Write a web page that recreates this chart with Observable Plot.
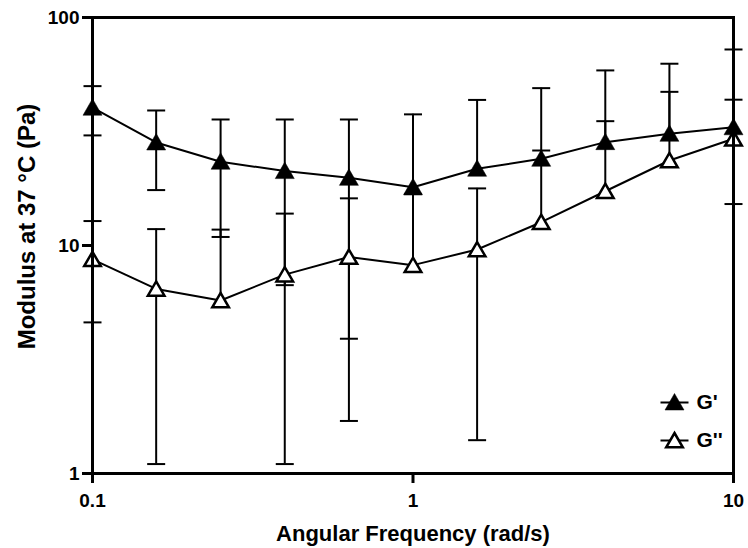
<!DOCTYPE html>
<html>
<head>
<meta charset="utf-8">
<script src="https://cdn.jsdelivr.net/npm/d3@7"></script>
<script src="https://cdn.jsdelivr.net/npm/@observablehq/plot@0.6"></script>
<style>
  html, body { margin: 0; padding: 0; background: #fff; }
  #chart svg { display: block; }
</style>
</head>
<body>
<div id="chart"></div>
<script>
// ---- data ----
const frequency = [0.1, 0.158, 0.251, 0.398, 0.631, 1, 1.585, 2.512, 3.981, 6.31, 10];
const gPrime     = [40.2, 28.3, 23.3, 21.2, 19.8, 18.0, 21.7, 24.0, 28.4, 30.9, 33.0];
const gPrimeSD   = [9.8, 10.8, 12.4, 14.5, 15.9, 19.6, 21.8, 25.0, 30.2, 31.8, 39.4];
const gDouble    = [8.7, 6.45, 5.74, 7.45, 8.9, 8.2, 9.6, 12.65, 17.3, 23.6, 29.4];
const gDoubleSD  = [4.1, 5.35, 6.0, 6.35, 7.2, 8.6, 8.2, 13.45, 17.8, 23.6, 14.2];
const seriesNames = ["G'", "G''"];
const xTicks = [0.1, 1, 10];
const xTickLabels = ["0.1", "1", "10"];
const yTicks = [1, 10, 100];
const yTickLabels = ["1", "10", "100"];
const xTitle = "Angular Frequency (rad/s)";
const yTitle = "Modulus at 37 \u00B0C (Pa)";

// ---- derived tables ----
function buildRows(name, means, sds) {
  return frequency.map((f, i) => {
    const lowRaw = means[i] - sds[i];
    return {series: name, f, v: means[i], hi: means[i] + sds[i],
            lo: lowRaw > 0 ? lowRaw : means[i], hasLo: lowRaw > 0};
  });
}
const rowsP = buildRows(seriesNames[0], gPrime, gPrimeSD);
const rowsD = buildRows(seriesNames[1], gDouble, gDoubleSD);
function capRows(rows) {
  const out = [];
  for (const r of rows) {
    out.push({f: r.f, y: r.hi});
    if (r.hasLo) out.push({f: r.f, y: r.lo});
  }
  return out;
}

// ---- custom symbols ----
const triFilled = {draw(ctx) { ctx.moveTo(0, -9); ctx.lineTo(9.5, 7.5); ctx.lineTo(-9.5, 7.5); ctx.closePath(); }};
const triOpen   = {draw(ctx) { ctx.moveTo(0, -7.5); ctx.lineTo(8.3, 6.8); ctx.lineTo(-8.3, 6.8); ctx.closePath(); }};
const capSym    = {draw(ctx) { ctx.moveTo(-9, 0); ctx.lineTo(9, 0); }};
const legendSym = {draw(ctx) { ctx.moveTo(-14, 0); ctx.lineTo(14, 0); }};

const xLab = new Map(xTicks.map((t, i) => [t, xTickLabels[i]]));
const yLab = new Map(yTicks.map((t, i) => [t, yTickLabels[i]]));

const chart = Plot.plot({
  width: 748,
  height: 548,
  marginLeft: 92,
  marginRight: 15,
  marginTop: 17,
  marginBottom: 75,
  style: {fontFamily: "'Liberation Sans', Arial, sans-serif", fontSize: "19px", fontWeight: "bold", color: "black", background: "white"},
  x: {type: "log", domain: [0.1, 10]},
  y: {type: "log", domain: [1, 100]},
  marks: [
    Plot.axisX({ticks: xTicks, tickFormat: d => xLab.get(d), tickSize: 10, tickPadding: 10, strokeWidth: 3, label: null, fontSize: 19}),
    Plot.axisY({ticks: yTicks, tickFormat: d => yLab.get(d), tickSize: 10, tickPadding: 3, strokeWidth: 3, label: null, fontSize: 19}),
    // G' error bars
    Plot.ruleX(rowsP, {x: "f", y1: "lo", y2: "hi", stroke: "black", strokeWidth: 2}),
    Plot.dot(capRows(rowsP), {x: "f", y: "y", symbol: capSym, stroke: "black", strokeWidth: 2, fill: "none"}),
    Plot.line(rowsP, {x: "f", y: "v", stroke: "black", strokeWidth: 2}),
    Plot.dot(rowsP, {x: "f", y: "v", symbol: triFilled, fill: "black", stroke: "black", strokeWidth: 0.5}),
    // G'' error bars
    Plot.ruleX(rowsD, {x: "f", y1: "lo", y2: "hi", stroke: "black", strokeWidth: 2}),
    Plot.dot(capRows(rowsD), {x: "f", y: "y", symbol: capSym, stroke: "black", strokeWidth: 2, fill: "none"}),
    Plot.line(rowsD, {x: "f", y: "v", stroke: "black", strokeWidth: 2}),
    Plot.dot(rowsD, {x: "f", y: "v", symbol: triOpen, fill: "white", stroke: "black", strokeWidth: 2.5}),
    // frame
    Plot.frame({stroke: "black", strokeWidth: 3}),
    // legend
    Plot.dot([seriesNames[0]], {frameAnchor: "bottom-right", dx: -59, dy: -71, symbol: legendSym, stroke: "black", strokeWidth: 2, fill: "none"}),
    Plot.dot([seriesNames[0]], {frameAnchor: "bottom-right", dx: -59, dy: -71, symbol: triFilled, fill: "black", stroke: "black", strokeWidth: 0.5}),
    Plot.text([seriesNames[0]], {text: d => d, frameAnchor: "bottom-right", dx: -37, dy: -71, textAnchor: "start", lineAnchor: "middle", fontSize: 21, fontWeight: "bold"}),
    Plot.dot([seriesNames[1]], {frameAnchor: "bottom-right", dx: -59, dy: -33, symbol: legendSym, stroke: "black", strokeWidth: 2, fill: "none"}),
    Plot.dot([seriesNames[1]], {frameAnchor: "bottom-right", dx: -59, dy: -33, symbol: triOpen, fill: "white", stroke: "black", strokeWidth: 2.5}),
    Plot.text([seriesNames[1]], {text: d => d, frameAnchor: "bottom-right", dx: -37, dy: -33, textAnchor: "start", lineAnchor: "middle", fontSize: 21, fontWeight: "bold"}),
    // axis titles
    Plot.text([xTitle], {text: d => d, frameAnchor: "bottom", dy: 60, lineAnchor: "middle", textAnchor: "middle", fontSize: 22, fontWeight: "bold"}),
    Plot.text([yTitle], {text: d => d, frameAnchor: "left", dx: -65, dy: -19, rotate: -90, lineAnchor: "middle", textAnchor: "middle", fontSize: 24, fontWeight: "bold"})
  ]
});
document.getElementById("chart").appendChild(chart);
</script>
</body>
</html>
